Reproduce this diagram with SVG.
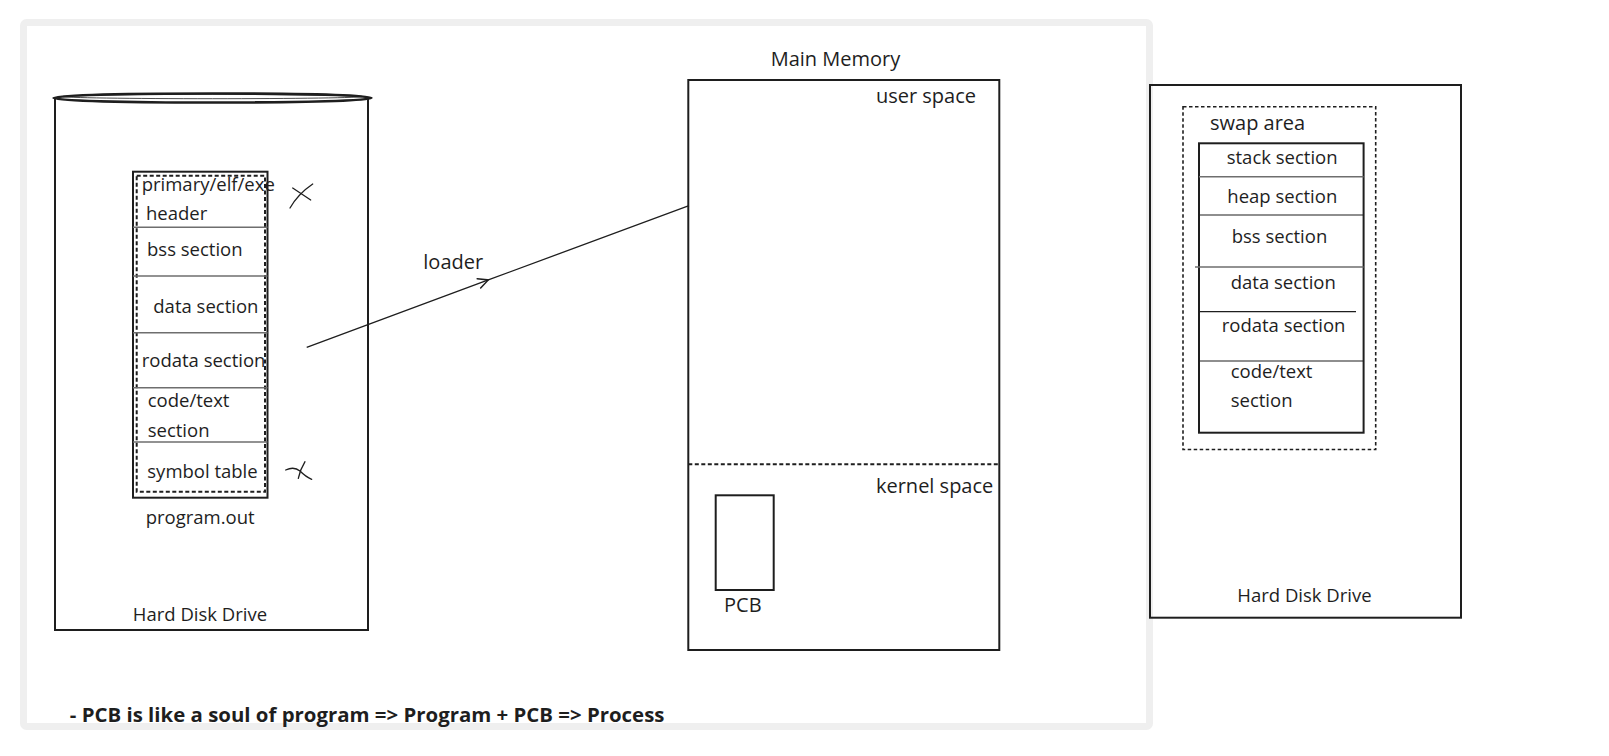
<svg xmlns="http://www.w3.org/2000/svg" width="1609" height="756" viewBox="0 0 1609 756">
  <defs>
    <style>
      text { font-family: "Open Sans", "Liberation Sans", sans-serif; fill: #1e1e1e; }
      .t18 { font-size: 18.5px; }
      .t20 { font-size: 20px; }
      .box { fill: none; stroke: #1e1e1e; stroke-width: 2; }
      .dash { fill: none; stroke: #1e1e1e; stroke-width: 2; stroke-dasharray: 4 2.5; }
      .div { stroke: #6e6e6e; stroke-width: 1.5; }
      .divd { stroke: #1e1e1e; stroke-width: 1.2; }
      .mark { fill: none; stroke: #1e1e1e; stroke-width: 1.3; stroke-linecap: round; }
    </style>
    <marker id="chev" viewBox="0 0 12 12" refX="11" refY="6" markerWidth="12" markerHeight="12" markerUnits="userSpaceOnUse" orient="auto">
      <path d="M1,1 L11,6 L1,11" fill="none" stroke="#1e1e1e" stroke-width="1.5" stroke-linecap="round"/>
    </marker>
  </defs>

  <rect width="1609" height="756" fill="#ffffff"/>
  <rect id="frame" x="23.5" y="22.5" width="1126" height="704" rx="3" fill="none" stroke="#efefef" stroke-width="7"/>

  <g id="hdd-left">
    <path d="M55,98 L55,630 L368,630 L368,98" class="box"/>
    <ellipse cx="212.5" cy="98" rx="159" ry="4.5" fill="#ffffff" stroke="#1e1e1e" stroke-width="2.5"/>
    <ellipse cx="212.5" cy="96.5" rx="150" ry="2.2" fill="none" stroke="#1e1e1e" stroke-width="0.8"/>
    <text class="t18" x="200" y="620.7" text-anchor="middle">Hard Disk Drive</text>
  </g>

  <g id="program-out">
    <rect x="133" y="171.7" width="134.5" height="326" class="box"/>
    <rect x="136.7" y="175.7" width="128.3" height="316" class="dash"/>
    <line x1="133" y1="227.3" x2="267.5" y2="227.3" class="div"/>
    <line x1="133" y1="276" x2="267.5" y2="276" class="div"/>
    <line x1="133" y1="332.7" x2="267.5" y2="332.7" class="div"/>
    <line x1="133" y1="387.7" x2="267.5" y2="387.7" class="div"/>
    <line x1="133" y1="442" x2="267.5" y2="442" class="div"/>
    <text class="t18" x="141.7" y="191">primary/elf/exe</text>
    <text class="t18" x="146" y="220">header</text>
    <text class="t18" x="147" y="255.7">bss section</text>
    <text class="t18" x="153.3" y="313.3">data section</text>
    <text class="t18" x="141.7" y="366.7">rodata section</text>
    <text class="t18" x="147.7" y="407.3">code/text</text>
    <text class="t18" x="147.7" y="436.7">section</text>
    <text class="t18" x="147.3" y="478.3">symbol table</text>
    <text class="t18" x="145.7" y="524">program.out</text>
  </g>

  <g id="marks">
    <path d="M290,208 Q298,194 312.7,184" class="mark"/>
    <path d="M292.7,188 L310.7,200" class="mark"/>
    <path d="M285.7,470 Q294,466 300,471 Q306,477 311.7,479.3" class="mark"/>
    <path d="M305,461.7 Q300,470 298.3,478.3" class="mark"/>
  </g>

  <g id="connectors">
    <path d="M306.7,347.3 L488.3,279.9 L689,205.7" fill="none" stroke="#1e1e1e" stroke-width="1.3" marker-mid="url(#chev)"/>
    <text class="t20" x="423.3" y="269">loader</text>
  </g>

  <g id="main-memory">
    <text class="t20" x="835.5" y="66" text-anchor="middle">Main Memory</text>
    <rect x="688.3" y="80" width="311" height="570" class="box"/>
    <line x1="688.3" y1="464.3" x2="999.3" y2="464.3" class="dash"/>
    <text class="t20" x="976" y="103.3" text-anchor="end">user space</text>
    <text class="t20" x="993.3" y="493.3" text-anchor="end">kernel space</text>
  </g>

  <g id="pcb">
    <rect x="715.7" y="495.3" width="58" height="94.7" class="box"/>
    <text class="t20" x="742.8" y="611.7" text-anchor="middle">PCB</text>
  </g>

  <g id="hdd-right">
    <rect x="1150" y="85" width="311" height="532.7" class="box"/>
    <text class="t18" x="1304.5" y="601.7" text-anchor="middle">Hard Disk Drive</text>
  </g>

  <g id="swap-area">
    <rect x="1183" y="106.7" width="192.7" height="342.8" fill="none" stroke="#1e1e1e" stroke-width="1.6" stroke-dasharray="3.5 2.5"/>
    <text class="t20" x="1210" y="130">swap area</text>
    <rect x="1199" y="143.3" width="164.6" height="289.4" class="box"/>
    <line x1="1199" y1="176.7" x2="1363.6" y2="176.7" class="div"/>
    <line x1="1199" y1="215" x2="1363.6" y2="215" class="divd"/>
    <line x1="1195" y1="267" x2="1363.6" y2="267" class="div"/>
    <line x1="1199" y1="311.7" x2="1356" y2="311.7" class="divd"/>
    <line x1="1199" y1="361" x2="1363.6" y2="361" class="divd"/>
    <text class="t18" x="1226.7" y="164.3">stack section</text>
    <text class="t18" x="1227.3" y="203.3">heap section</text>
    <text class="t18" x="1231.7" y="243.3">bss section</text>
    <text class="t18" x="1230.7" y="289.3">data section</text>
    <text class="t18" x="1221.7" y="331.7">rodata section</text>
    <text class="t18" x="1230.7" y="377.7">code/text</text>
    <text class="t18" x="1230.7" y="407.3">section</text>
  </g>

  <g id="note">
    <text x="69.8" y="722" font-size="20.4" font-weight="bold">- PCB is like a soul of program =&gt; Program + PCB =&gt; Process</text>
  </g>
</svg>
